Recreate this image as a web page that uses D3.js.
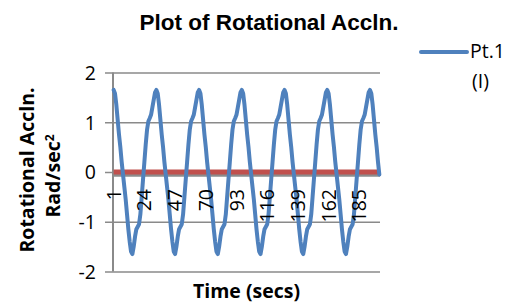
<!DOCTYPE html>
<html>
<head>
<meta charset="utf-8">
<script src="https://cdn.jsdelivr.net/npm/d3@7"></script>
<style>
    html, body { margin: 0; padding: 0; background: #ffffff; }
    #chart-container { width: 512px; height: 305px; }
    .tick-label { font-family: "Open Sans", "Noto Sans", sans-serif; font-size: 19.5px; fill: #000; }
    .axis-title { font-family: "Open Sans", "Noto Sans", sans-serif; font-size: 19.5px; font-weight: bold; fill: #000; }
    .chart-title { font-family: "Liberation Sans", Arial, sans-serif; font-size: 22.5px; font-weight: bold; fill: #000; }
</style>
</head>
<body>
<div id="chart-container"></div>
<script>
// data, one sample per second (1..200)
var categories = d3.range(1, 201);
var xTickLabels = [1, 24, 47, 70, 93, 116, 139, 162, 185];
var yTickLabels = [2, 1, 0, -1, -2];

var seriesNames = ["Pt.1 (I)", "Pt.1 (II)"];

// Pt.1 (I) - rotational accln, rad/sec^2
var pt1Values = [
    1.65, 1.58, 1.35, 1.05, 0.75, 0.5, 0.2, -0.05, -0.3, -0.55, -0.85, -1.15, -1.4, -1.6, -1.65, -1.5,
    -1.3, -1.15, -1.1, -1.05, -0.85, -0.5, -0.15, 0.2, 0.55, 0.85, 1.02, 1.08, 1.15, 1.3, 1.45, 1.6,
    1.65, 1.58, 1.35, 1.05, 0.75, 0.5, 0.2, -0.05, -0.3, -0.55, -0.85, -1.15, -1.4, -1.6, -1.65, -1.5,
    -1.3, -1.15, -1.1, -1.05, -0.85, -0.5, -0.15, 0.2, 0.55, 0.85, 1.02, 1.08, 1.15, 1.3, 1.45, 1.6,
    1.65, 1.58, 1.35, 1.05, 0.75, 0.5, 0.2, -0.05, -0.3, -0.55, -0.85, -1.15, -1.4, -1.6, -1.65, -1.5,
    -1.3, -1.15, -1.1, -1.05, -0.85, -0.5, -0.15, 0.2, 0.55, 0.85, 1.02, 1.08, 1.15, 1.3, 1.45, 1.6,
    1.65, 1.58, 1.35, 1.05, 0.75, 0.5, 0.2, -0.05, -0.3, -0.55, -0.85, -1.15, -1.4, -1.6, -1.65, -1.5,
    -1.3, -1.15, -1.1, -1.05, -0.85, -0.5, -0.15, 0.2, 0.55, 0.85, 1.02, 1.08, 1.15, 1.3, 1.45, 1.6,
    1.65, 1.58, 1.35, 1.05, 0.75, 0.5, 0.2, -0.05, -0.3, -0.55, -0.85, -1.15, -1.4, -1.6, -1.65, -1.5,
    -1.3, -1.15, -1.1, -1.05, -0.85, -0.5, -0.15, 0.2, 0.55, 0.85, 1.02, 1.08, 1.15, 1.3, 1.45, 1.6,
    1.65, 1.58, 1.35, 1.05, 0.75, 0.5, 0.2, -0.05, -0.3, -0.55, -0.85, -1.15, -1.4, -1.6, -1.65, -1.5,
    -1.3, -1.15, -1.1, -1.05, -0.85, -0.5, -0.15, 0.2, 0.55, 0.85, 1.02, 1.08, 1.15, 1.3, 1.45, 1.6,
    1.65, 1.58, 1.35, 1.05, 0.75, 0.5, 0.2, -0.05
];

// second series sits flat on zero the whole time
var pt2Values = [
    0, 0, 0, 0, 0, 0, 0, 0, 0, 0, 0, 0, 0, 0, 0, 0, 0, 0, 0, 0, 0, 0, 0, 0, 0, 0, 0, 0, 0, 0, 0, 0,
    0, 0, 0, 0, 0, 0, 0, 0, 0, 0, 0, 0, 0, 0, 0, 0, 0, 0, 0, 0, 0, 0, 0, 0, 0, 0, 0, 0, 0, 0, 0, 0,
    0, 0, 0, 0, 0, 0, 0, 0, 0, 0, 0, 0, 0, 0, 0, 0, 0, 0, 0, 0, 0, 0, 0, 0, 0, 0, 0, 0, 0, 0, 0, 0,
    0, 0, 0, 0, 0, 0, 0, 0, 0, 0, 0, 0, 0, 0, 0, 0, 0, 0, 0, 0, 0, 0, 0, 0, 0, 0, 0, 0, 0, 0, 0, 0,
    0, 0, 0, 0, 0, 0, 0, 0, 0, 0, 0, 0, 0, 0, 0, 0, 0, 0, 0, 0, 0, 0, 0, 0, 0, 0, 0, 0, 0, 0, 0, 0,
    0, 0, 0, 0, 0, 0, 0, 0, 0, 0, 0, 0, 0, 0, 0, 0, 0, 0, 0, 0, 0, 0, 0, 0, 0, 0, 0, 0, 0, 0, 0, 0,
    0, 0, 0, 0, 0, 0, 0, 0
];

function RotChart(container) {
    this.container = container;
    this.width = 512;
    this.height = 305;
    this.padding = {
        top: 72.5,
        right: 132,
        bottom: 33.5,
        left: 113
    };
    this.gridColor = "#8a8a8a";
    this.blue = "#4f81bd";
    this.red = "#c0504d";
}

RotChart.prototype.draw = function() {
    var svg = d3.select(this.container)
        .append("svg")
        .attr("width", this.width)
        .attr("height", this.height);

    var xScale = d3.scaleBand()
        .domain(categories)
        .range([this.padding.left, this.width - this.padding.right]);

    var yScale = d3.scaleLinear()
        .domain([-2, 2])
        .range([this.height - this.padding.bottom, this.padding.top]);

    this._yAxis(svg, xScale, yScale);
    this._lines(svg, xScale, yScale);
    this._xLabels(svg, xScale, yScale);
    this._titles(svg, xScale, yScale);
    this._legend(svg);
};

RotChart.prototype._yAxis = function(svg, xScale, yScale) {
    var x0 = xScale.range()[0];
    var x1 = xScale.range()[1];
    var color = this.gridColor;

    var yAxis = d3.axisLeft(yScale)
        .tickValues(yTickLabels)
        .tickSize(-(x1 - x0))
        .tickFormat(d3.format("d"));

    var g = svg.append("g")
        .attr("class", "axis y-axis")
        .attr("transform", "translate(" + x0 + ",0)")
        .call(yAxis);

    g.select(".domain").remove();
    g.selectAll(".tick line")
        .attr("x2", x1 - x0)
        .attr("x1", -8)
        .attr("stroke", color)
        .attr("stroke-width", 1.5);
    g.selectAll(".tick text")
        .attr("class", "tick-label")
        .attr("x", -17)
        .attr("dy", "0.35em")
        .text(function(d) { return d < 0 ? "-" + Math.abs(d) : d; });

    // vertical axis line
    svg.append("line")
        .attr("x1", x0).attr("x2", x0)
        .attr("y1", yScale(2)).attr("y2", yScale(-2))
        .attr("stroke", color)
        .attr("stroke-width", 2);

    // category axis line crossing at zero
    svg.append("line")
        .attr("x1", x0).attr("x2", x1)
        .attr("y1", yScale(0) + 3).attr("y2", yScale(0) + 3)
        .attr("stroke", "#8c8c8c")
        .attr("stroke-width", 3.5);
};

RotChart.prototype._lines = function(svg, xScale, yScale) {
    var half = xScale.bandwidth() / 2;
    var line = d3.line()
        .x(function(d, i) { return xScale(categories[i]) + half; })
        .y(function(d) { return yScale(d); });

    svg.append("path")
        .datum(pt2Values)
        .attr("fill", "none")
        .attr("stroke", this.red)
        .attr("stroke-width", 5)
        .attr("d", line);

    svg.append("path")
        .datum(pt1Values)
        .attr("fill", "none")
        .attr("stroke", this.blue)
        .attr("stroke-width", 4)
        .attr("stroke-linejoin", "round")
        .attr("stroke-linecap", "round")
        .attr("d", line);
};

RotChart.prototype._xLabels = function(svg, xScale, yScale) {
    var half = xScale.bandwidth() / 2;
    var y0 = yScale(0) + 17;

    svg.append("g")
        .attr("class", "axis x-axis")
        .selectAll("text")
        .data(xTickLabels)
        .enter().append("text")
        .attr("class", "tick-label")
        .attr("text-anchor", "end")
        .attr("dy", "0.36em")
        .attr("transform", function(d) {
            return "translate(" + (xScale(d) + half) + "," + y0 + ") rotate(-90)";
        })
        .text(function(d) { return d; });
};

RotChart.prototype._titles = function(svg, xScale, yScale) {
    var xr = xScale.range();

    svg.append("text")
        .attr("class", "chart-title")
        .attr("x", 269)
        .attr("y", 30)
        .attr("text-anchor", "middle")
        .text("Plot of Rotational Accln.");

    svg.append("text")
        .attr("class", "axis-title")
        .attr("x", (xr[0] + xr[1]) / 2)
        .attr("y", 298)
        .attr("text-anchor", "middle")
        .text("Time (secs)");

    var yt = svg.append("text")
        .attr("class", "axis-title")
        .attr("text-anchor", "middle")
        .attr("transform", "translate(27,170) rotate(-90)");
    yt.append("tspan")
        .attr("x", 0).attr("dy", "0.35em")
        .text("Rotational Accln.");

    var yt2 = svg.append("text")
        .attr("class", "axis-title")
        .attr("text-anchor", "middle")
        .attr("transform", "translate(53,176) rotate(-90)");
    yt2.append("tspan")
        .attr("x", 0).attr("dy", "0.35em")
        .text("Rad/sec");
    yt2.append("tspan")
        .attr("dy", "-0.45em")
        .attr("font-size", "12px")
        .text("2");
};

RotChart.prototype._legend = function(svg) {
    var g = svg.append("g").attr("class", "legend");

    g.append("line")
        .attr("x1", 421).attr("x2", 467)
        .attr("y1", 52).attr("y2", 52)
        .attr("stroke", this.blue)
        .attr("stroke-width", 4)
        .attr("stroke-linecap", "round");

    var parts = seriesNames[0].split(" ");
    var t = g.append("text")
        .attr("class", "tick-label")
        .attr("x", 470)
        .attr("y", 58);
    t.append("tspan").attr("x", 470).text(parts[0]);
    t.append("tspan").attr("x", 472).attr("dy", 30).text(parts[1]);
};

var chart = new RotChart(document.getElementById("chart-container"));
chart.draw();
</script>
</body>
</html>
